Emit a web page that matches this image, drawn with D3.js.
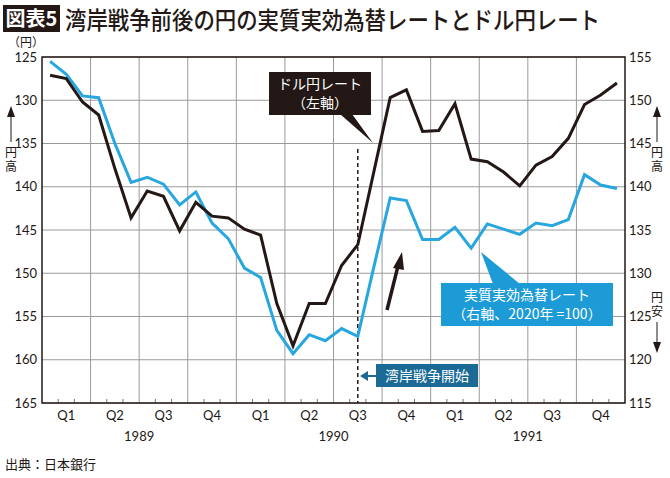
<!DOCTYPE html>
<html>
<head>
<meta charset="utf-8">
<script src="https://cdn.jsdelivr.net/npm/d3@7"></script>
<style>
  body { margin: 0; background: #fff; }
  svg { font-family: "Noto Sans CJK JP", "Noto Sans", sans-serif; }
  .tick-num { font-family: Lato, "Noto Sans", sans-serif; font-size: 13px; fill: #231815; }
</style>
</head>
<body>
<svg width="670" height="478"></svg>
<script>
// monthly values, Jan 1989 - Dec 1991
const usdJpy = [127.1, 127.5, 130.2, 131.7, 137.9, 143.6, 140.5, 141.1, 145.1, 141.8, 143.4, 143.6,
                144.9, 145.6, 153.5, 158.4, 153.5, 153.5, 149.1, 146.7, 138.2, 129.7, 128.8, 133.6,
                133.5, 130.4, 136.8, 137.1, 138.3, 139.9, 137.5, 136.5, 134.4, 130.5, 129.4, 128.0];
const reer = [154.5, 153.0, 150.5, 150.3, 145.0, 140.5, 141.1, 140.3, 137.9, 139.4, 135.8, 134.0,
              130.6, 129.5, 123.4, 120.7, 122.9, 122.2, 123.6, 122.7, 130.8, 138.7, 138.4, 133.9,
              133.9, 135.3, 132.9, 135.7, 135.1, 134.5, 135.8, 135.5, 136.2, 141.4, 140.2, 139.8];
const quarters = ['Q1', 'Q2', 'Q3', 'Q4'];
const years = ['1989', '1990', '1991'];
const leftTicks = [125, 130, 135, 140, 145, 150, 155, 160, 165];
const rightTicks = [155, 150, 145, 140, 135, 130, 125, 120, 115];
const warMonth = 19; // Aug 1990

const svg = d3.select('svg');
const plot = { left: 42, right: 625, top: 57, bottom: 403 };
const black = '#231815', blue = '#27a6df';

const x = d3.scaleLinear().domain([0, 36]).range([plot.left, plot.right]);
const yL = d3.scaleLinear().domain([125, 165]).range([plot.top, plot.bottom]);
const yR = d3.scaleLinear().domain([155, 115]).range([plot.top, plot.bottom]);

// title
svg.append('rect').attr('x', 3).attr('y', 5).attr('width', 57).attr('height', 27).attr('fill', black);
svg.append('text').attr('x', 31.5).attr('y', 26).attr('text-anchor', 'middle')
  .attr('fill', '#fff').attr('font-size', 20).attr('font-weight', 700).text('図表5');
svg.append('text').attr('x', 65).attr('y', 29).attr('font-size', 24).attr('font-weight', 500)
  .attr('fill', black).attr('textLength', 535).attr('lengthAdjust', 'spacingAndGlyphs')
  .text('湾岸戦争前後の円の実質実効為替レートとドル円レート');

// grid
const g = svg.append('g');
g.selectAll('.hgrid').data(leftTicks).enter().append('line')
  .attr('x1', plot.left).attr('x2', plot.right)
  .attr('y1', d => yL(d)).attr('y2', d => yL(d))
  .attr('stroke', '#9a9a9a').attr('stroke-width', 1);
g.selectAll('.vgrid').data(d3.range(1, 12)).enter().append('line')
  .attr('x1', d => x(d * 3)).attr('x2', d => x(d * 3))
  .attr('y1', plot.top).attr('y2', plot.bottom)
  .attr('stroke', '#9a9a9a').attr('stroke-width', 1);
// month ticks
g.selectAll('.mtick').data(d3.range(1, 36).filter(d => d % 3 !== 0)).enter().append('line')
  .attr('x1', d => x(d)).attr('x2', d => x(d))
  .attr('y1', plot.bottom).attr('y2', plot.bottom - 4)
  .attr('stroke', '#777').attr('stroke-width', 1);

// frame
g.append('rect').attr('x', plot.left).attr('y', plot.top)
  .attr('width', plot.right - plot.left).attr('height', plot.bottom - plot.top)
  .attr('fill', 'none').attr('stroke', black).attr('stroke-width', 1.5);

// axis labels
g.selectAll('.lt').data(leftTicks).enter().append('text').attr('class', 'tick-num')
  .attr('x', 37).attr('y', d => yL(d) + 4.5).attr('text-anchor', 'end').text(d => d);
g.selectAll('.rt').data(rightTicks).enter().append('text').attr('class', 'tick-num')
  .attr('x', 629).attr('y', d => yR(d) + 4.5).text(d => d);
svg.append('text').attr('x', 26).attr('y', 47).attr('text-anchor', 'middle')
  .attr('font-size', 12).attr('fill', black).text('（円）');

const qLabels = d3.range(12).map(i => quarters[i % 4]);
g.selectAll('.ql').data(qLabels).enter().append('text').attr('class', 'tick-num')
  .attr('x', (d, i) => x(i * 3 + 1.5)).attr('y', 420).attr('text-anchor', 'middle').text(d => d);
g.selectAll('.yl').data(years).enter().append('text').attr('class', 'tick-num')
  .attr('x', (d, i) => x(i * 12 + 6)).attr('y', 441).attr('text-anchor', 'middle').text(d => d);

// side arrows 円高 / 円安 (vertical text)
const arrowHead = (cx, tipY, dir) =>
  `M${cx},${tipY} L${cx - 4},${tipY + dir * 11} L${cx + 4},${tipY + dir * 11} Z`;
function sideNote(cx, tipY, lineEnd, label, textTop, dir) {
  svg.append('line').attr('x1', cx).attr('x2', cx).attr('y1', tipY + dir * 8).attr('y2', lineEnd)
    .attr('stroke', black).attr('stroke-width', 1);
  svg.append('path').attr('d', arrowHead(cx, tipY, dir)).attr('fill', black);
  svg.append('text').attr('x', cx).attr('y', textTop)
    .style('writing-mode', 'vertical-rl').style('letter-spacing', '2px')
    .attr('font-size', 12).attr('fill', black).text(label);
}
sideNote(11, 106, 142, '円高', 146, 1);
sideNote(657, 106, 142, '円高', 146, 1);
sideNote(657, 353, 322, '円安', 291, -1);

// dashed line: Gulf war start
g.append('line').attr('x1', x(warMonth + 0.5)).attr('x2', x(warMonth + 0.5))
  .attr('y1', 149).attr('y2', plot.bottom)
  .attr('stroke', black).attr('stroke-width', 1.5).attr('stroke-dasharray', '4,3');

// lines
const lineL = d3.line().x((d, i) => x(i + 0.5)).y(d => yL(d));
const lineR = d3.line().x((d, i) => x(i + 0.5)).y(d => yR(d));
g.append('path').datum(reer).attr('d', lineR).attr('fill', 'none')
  .attr('stroke', blue).attr('stroke-width', 3).attr('stroke-linejoin', 'miter');
g.append('path').datum(usdJpy).attr('d', lineL).attr('fill', 'none')
  .attr('stroke', black).attr('stroke-width', 3).attr('stroke-linejoin', 'miter');

// two-line label inside one text element
function twoLines(sel, cx, y1, dy, lines) {
  const t = sel.append('text').attr('text-anchor', 'middle').attr('font-size', 14).attr('fill', '#fff');
  lines.forEach((s, i) => t.append('tspan').attr('x', cx).attr('y', y1 + i * dy).text(s));
}

// callout: ドル円レート
const ann = svg.append('g');
ann.append('path').attr('d', 'M340,114 L352,114 L373,143 Z').attr('fill', black);
ann.append('rect').attr('x', 269).attr('y', 72).attr('width', 102).attr('height', 43).attr('fill', black);
twoLines(ann, 320, 89, 19, ['ドル円レート', '（左軸）']);

// callout: 実質実効為替レート
ann.append('path').attr('d', 'M493,284 L520,284 L481,252 Z').attr('fill', '#1d9bd7');
ann.append('rect').attr('x', 441).attr('y', 283).attr('width', 172).attr('height', 43).attr('fill', '#1d9bd7');
twoLines(ann, 527, 300, 19, ['実質実効為替レート', '（右軸、2020年 =100）']);

// black arrow
ann.append('line').attr('x1', 387).attr('y1', 310).attr('x2', 398).attr('y2', 266)
  .attr('stroke', black).attr('stroke-width', 3.5);
ann.append('path').attr('d', 'M402,252 L393,268 L404,270 Z').attr('fill', black);

// 湾岸戦争開始 label
const dark = '#1b6a96';
ann.append('rect').attr('x', 376).attr('y', 364).attr('width', 102).attr('height', 23).attr('fill', dark);
ann.append('text').attr('x', 427).attr('y', 381).attr('text-anchor', 'middle')
  .attr('font-size', 14).attr('fill', '#fff').text('湾岸戦争開始');
ann.append('line').attr('x1', 366).attr('y1', 376).attr('x2', 376).attr('y2', 376)
  .attr('stroke', dark).attr('stroke-width', 2);
ann.append('path').attr('d', 'M360,376 L368,371 L368,381 Z').attr('fill', dark);

// source
svg.append('text').attr('x', 5).attr('y', 469).attr('font-size', 13).attr('fill', black)
  .text('出典：日本銀行');
</script>
</body>
</html>
